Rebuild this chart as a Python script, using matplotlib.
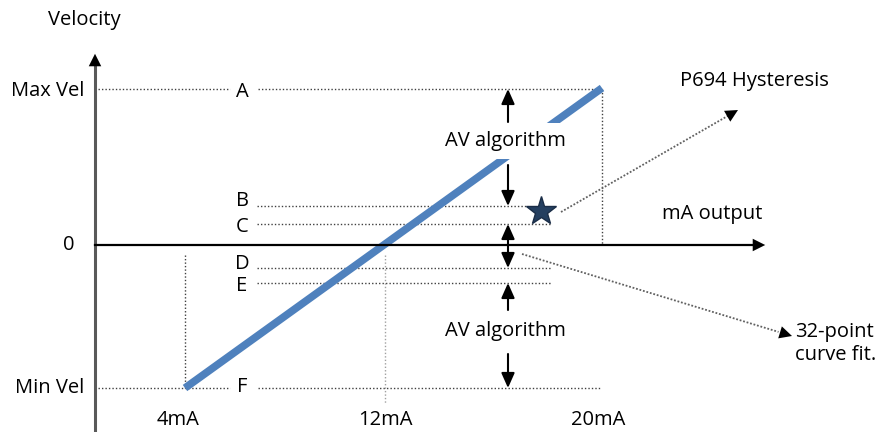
import matplotlib
matplotlib.use("Agg")
import matplotlib.pyplot as plt

plt.rcParams['font.family'] = ['Open Sans', 'DejaVu Sans']

# Diagram coordinates (pixel-like units, y grows downward)
level_names = ["Max Vel", "B", "C", "0", "D", "E", "Min Vel"]
level_y = [89, 206, 224, 245, 268, 283, 388]
point_labels = ["A", "B", "C", "D", "E", "F"]
point_label_y = [92, 201, 227, 264, 286, 387]
ma_labels = ["4mA", "12mA", "20mA"]
ma_x = [185, 385, 602]
line_x = [185, 602]
line_y = [388, 88]

fig = plt.figure(figsize=(8.77, 4.32), dpi=100)
ax = fig.add_axes([0, 0, 1, 1])
ax.set_xlim(0, 877)
ax.set_ylim(432, 0)
ax.axis("off")

y_max, y_B, y_C, y_0, y_D, y_E, y_min = level_y
FS = 14.5
dot = dict(color="#404040", lw=1.0, ls=(0, (1, 1.5)))

# dotted reference lines
ax.plot([98, 230], [y_max, y_max], **dot)
ax.plot([258, ma_x[2]], [y_max, y_max], **dot)
ax.plot([ma_x[2], ma_x[2]], [y_max, y_0], **dot)
ax.plot([257, 528], [y_B, y_B], **dot)
ax.plot([257, 552], [y_C, y_C], **dot)
ax.plot([257, 552], [y_D, y_D], **dot)
ax.plot([257, 552], [y_E, y_E], **dot)
ax.plot([98, 230], [y_min, y_min], **dot)
ax.plot([258, 601], [y_min, y_min], **dot)
ax.plot([ma_x[0], ma_x[0]], [255, y_min], **dot)
ax.plot([ma_x[1], ma_x[1]], [255, 403], color="#a0a0a0", lw=1.0, ls=(0, (1, 1.5)))

# blue line
ax.plot(line_x, line_y, color="#4F81BD", lw=5.5, solid_capstyle="butt", zorder=3)

# axes arrows
ax.plot([95, 95], [432, 62], color="#595959", lw=2.2, zorder=4)
ax.annotate("", xy=(95, 51), xytext=(95, 66),
            arrowprops=dict(arrowstyle="-|>,head_length=0.9,head_width=0.45", color="black", lw=0), zorder=5)
ax.plot([95, 755], [y_0, y_0], color="black", lw=1.6, zorder=4)
ax.annotate("", xy=(768, y_0), xytext=(752, y_0),
            arrowprops=dict(arrowstyle="-|>,head_length=0.9,head_width=0.45", color="black", lw=0), zorder=5)

# text labels
ax.text(84, 20, "Velocity", fontsize=FS, ha="center", va="center")
ax.text(84, y_max + 2, "Max Vel", fontsize=FS, ha="right", va="center")
ax.text(75, y_0, "0", fontsize=FS, ha="right", va="center")
ax.text(84, y_min, "Min Vel", fontsize=FS, ha="right", va="center")
for lab, yy in zip(point_labels, point_label_y):
    ax.text(242, yy, lab, fontsize=FS, ha="center", va="center")
for lab, xx, off in zip(ma_labels, ma_x, [-7, 0, -4]):
    ax.text(xx + off, 420, lab, fontsize=FS, ha="center", va="center")
ax.text(712, 214, "mA output", fontsize=FS, ha="center", va="center")
ax.text(680, 81, "P694 Hysteresis", fontsize=FS, ha="left", va="center")
ax.text(795, 343, "32-point\ncurve fit.", fontsize=FS, ha="left", va="center", linespacing=1.2)

# AV algorithm labels with white background
for yy in [141, 331]:
    ax.text(505, yy, "AV algorithm", fontsize=FS, ha="center", va="center", zorder=6,
            bbox=dict(facecolor="white", edgecolor="none", pad=6))

arr = dict(arrowstyle="-|>,head_length=0.9,head_width=0.4", color="black", lw=1.5, shrinkA=0, shrinkB=0)
ax_x = 508
ax.annotate("", xy=(ax_x, y_max), xytext=(ax_x, 122), arrowprops=arr, zorder=7)
ax.annotate("", xy=(ax_x, y_B), xytext=(ax_x, 165), arrowprops=arr, zorder=7)
ax.annotate("", xy=(ax_x, y_C), xytext=(ax_x, y_0), arrowprops=arr, zorder=7)
ax.annotate("", xy=(ax_x, y_D), xytext=(ax_x, y_0), arrowprops=arr, zorder=7)
ax.annotate("", xy=(ax_x, y_E), xytext=(ax_x, 310), arrowprops=arr, zorder=7)
ax.annotate("", xy=(ax_x, y_min), xytext=(ax_x, 354), arrowprops=arr, zorder=7)

# star
ax.plot([541], [211], marker="*", markersize=22, color="#243F60", markeredgecolor="#1a2d47", zorder=8)

# dotted callouts with solid black heads
callouts = [((561, 212), (738, 110)), ((522, 254), (792, 336))]
for (x0, y0), (x1, y1) in callouts:
    fx, fy = x0 + (x1 - x0) * 0.95, y0 + (y1 - y0) * 0.95
    ax.plot([x0, fx], [y0, fy], color="#606060", lw=1.3, ls=(0, (1, 1)), zorder=7)
    ax.annotate("", xy=(x1, y1), xytext=(fx, fy),
                arrowprops=dict(arrowstyle="-|>,head_length=0.9,head_width=0.45", color="black",
                                lw=0, shrinkA=0, shrinkB=0), zorder=7)

fig.savefig("out.png", dpi=100)
